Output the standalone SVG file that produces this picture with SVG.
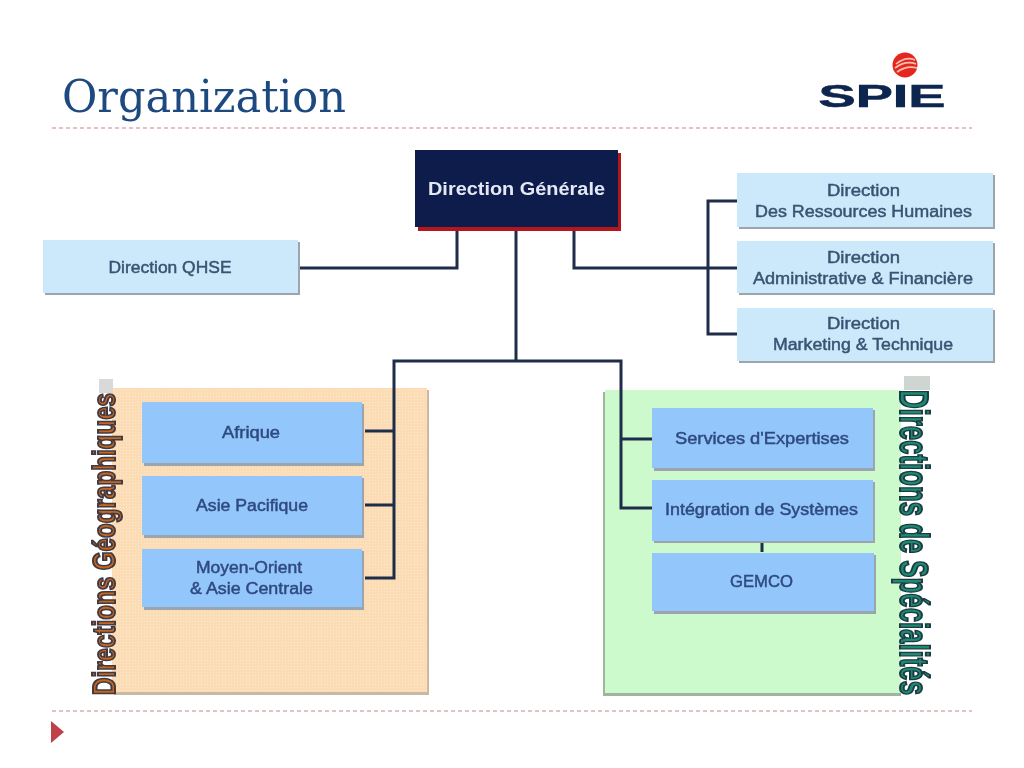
<svg xmlns="http://www.w3.org/2000/svg" width="1024" height="768" viewBox="0 0 1024 768">
<style>
text{font-family:"Liberation Sans",Arial,sans-serif;text-anchor:middle}
.t{font-size:16px;fill:#3a5372;stroke:#3a5372;stroke-width:.45px}
.b{font-size:16px;fill:#2f4a80;stroke:#2f4a80;stroke-width:.45px}
.light{fill:#cce9fb}
.blue{fill:#93c6fa}
.sh{fill:#9aa5ad}
.dash{stroke:#c98585;stroke-width:1;stroke-dasharray:4 3;fill:none}
.conn{fill:none;stroke:#1f2d48;stroke-width:3}
.v{font-weight:bold}
</style>
<defs>
<pattern id="dots" width="3" height="3" patternUnits="userSpaceOnUse">
<rect width="3" height="3" fill="#fbdcb4"/><rect width="1" height="1" fill="#fde9cf"/>
</pattern>
<filter id="soft" filterUnits="userSpaceOnUse" x="0" y="0" width="1024" height="768"><feGaussianBlur stdDeviation="0.5"/></filter>
</defs>
<rect width="1024" height="768" fill="#fff"/>
<g filter="url(#soft)">
<text id="title" x="62" y="112" style="text-anchor:start;font-family:'DejaVu Serif',serif;font-size:44px;fill:#1f4a80" textLength="284" lengthAdjust="spacingAndGlyphs">Organization</text>
<g id="logo">
<circle cx="905" cy="65" r="12.500" fill="#e5281f"/>
<path d="M896 64Q906 56 915 60M895 68Q906 60 916 64M897 72Q907 65 917 68" fill="none" stroke="#f7c0b0" stroke-width="1.600"/>
<text x="882" y="107" style="font-size:32px;font-weight:bold;fill:#10264f;stroke:#10264f;stroke-width:.6px" textLength="127" lengthAdjust="spacingAndGlyphs">SPIE</text>
</g>
<path class="dash" d="M52 128H972M52 711H972"/>
<path id="bullet" d="M51 721L64 732L51 743Z" fill="#bf4146"/>

<g id="zone-geo">
<rect x="114" y="390" width="315" height="305" fill="#c9b8a2"/>
<rect x="112" y="388" width="315" height="304" fill="url(#dots)"/>
</g>
<g id="zone-spec">
<rect x="603" y="392" width="298" height="304" fill="#9fb5a0"/>
<rect x="605" y="390" width="296" height="303" fill="#ccfacc"/>
</g>
<g id="label-geo">
<rect x="99" y="379" width="14" height="14" fill="#d9d9d9"/>
<text class="v" transform="translate(115 544) rotate(-90)" style="font-size:32px;fill:#c8651c;stroke:#3f3a44;stroke-width:2px" textLength="302" lengthAdjust="spacingAndGlyphs">Directions Géographiques</text>
</g>
<g id="label-spec">
<rect x="904" y="376" width="26" height="14" fill="#cfd6d2"/>
<text class="v" transform="translate(900 542.500) rotate(90)" style="font-size:41px;fill:#1f8a70;stroke:#1c3a42;stroke-width:2px" textLength="305" lengthAdjust="spacingAndGlyphs">Directions de Spécialités</text>
</g>

<g id="connectors">
<path class="conn" d="M300 268H457V231"/>
<path class="conn" d="M516 231V361"/>
<path class="conn" d="M574 231V268H737"/>
<path class="conn" d="M737 201H708V334H737"/>
<path class="conn" d="M365 578H394V361H621V508H652"/>
<path class="conn" d="M365 431H394M365 505H394M621 439H652"/>
<path class="conn" d="M762 542V552"/>
</g>

<g id="direction-generale">
<rect x="418" y="153" width="203" height="78" fill="#b5121b"/>
<rect x="415" y="150" width="203" height="77" fill="#0b1c4b"/>
<text x="516.500" y="195" style="font-size:18px;font-weight:bold;fill:#e3e8f4" textLength="177" lengthAdjust="spacingAndGlyphs">Direction Générale</text>
</g>
<g id="direction-qhse">
<rect class="sh" x="45" y="242" width="255" height="53"/><rect class="light" x="43" y="240" width="255" height="53"/>
<text class="t" x="170" y="273" textLength="123" lengthAdjust="spacingAndGlyphs">Direction QHSE</text>
</g>
<g id="direction-rh">
<rect class="sh" x="739" y="175" width="256" height="54"/><rect class="light" x="737" y="173" width="256" height="54"/>
<text class="t" x="863.500" y="196" textLength="73" lengthAdjust="spacingAndGlyphs">Direction</text>
<text class="t" x="863.500" y="217" textLength="217" lengthAdjust="spacingAndGlyphs">Des Ressources Humaines</text>
</g>
<g id="direction-af">
<rect class="sh" x="739" y="243" width="256" height="52"/><rect class="light" x="737" y="241" width="256" height="52"/>
<text class="t" x="863.500" y="263" textLength="73" lengthAdjust="spacingAndGlyphs">Direction</text>
<text class="t" x="863" y="284" textLength="220" lengthAdjust="spacingAndGlyphs">Administrative &amp; Financière</text>
</g>
<g id="direction-mt">
<rect class="sh" x="739" y="310" width="256" height="53"/><rect class="light" x="737" y="308" width="256" height="53"/>
<text class="t" x="863.500" y="329" textLength="73" lengthAdjust="spacingAndGlyphs">Direction</text>
<text class="t" x="863" y="350" textLength="180" lengthAdjust="spacingAndGlyphs">Marketing &amp; Technique</text>
</g>
<g id="afrique">
<rect class="sh" x="144" y="404" width="220" height="62"/><rect class="blue" x="142" y="402" width="220" height="61"/>
<text class="b" x="251" y="438" textLength="58" lengthAdjust="spacingAndGlyphs">Afrique</text>
</g>
<g id="asie-pacifique">
<rect class="sh" x="144" y="478" width="220" height="60"/><rect class="blue" x="142" y="476" width="220" height="59"/>
<text class="b" x="252" y="511" textLength="112" lengthAdjust="spacingAndGlyphs">Asie Pacifique</text>
</g>
<g id="moyen-orient">
<rect class="sh" x="144" y="551" width="220" height="59"/><rect class="blue" x="142" y="549" width="220" height="58"/>
<text class="b" x="249" y="573" textLength="106" lengthAdjust="spacingAndGlyphs">Moyen-Orient</text>
<text class="b" x="251.500" y="594" textLength="123" lengthAdjust="spacingAndGlyphs">&amp; Asie Centrale</text>
</g>
<g id="services-expertises">
<rect class="sh" x="654" y="410" width="221" height="61"/><rect class="blue" x="652" y="408" width="221" height="60"/>
<text class="b" x="762" y="444" textLength="174" lengthAdjust="spacingAndGlyphs">Services d'Expertises</text>
</g>
<g id="integration-systemes">
<rect class="sh" x="654" y="482" width="221" height="61"/><rect class="blue" x="652" y="480" width="221" height="61"/>
<text class="b" x="761.500" y="515" textLength="193" lengthAdjust="spacingAndGlyphs">Intégration de Systèmes</text>
</g>
<g id="gemco">
<rect class="sh" x="654" y="555" width="222" height="59"/><rect class="blue" x="652" y="553" width="222" height="58"/>
<text class="b" x="761.500" y="587" textLength="63" lengthAdjust="spacingAndGlyphs">GEMCO</text>
</g>
</g>
</svg>
